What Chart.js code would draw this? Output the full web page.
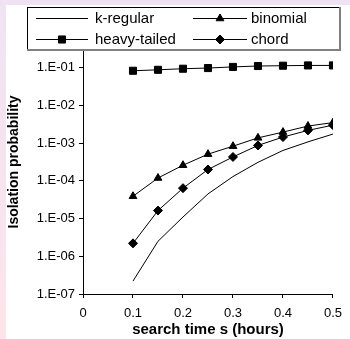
<!DOCTYPE html>
<html>
<head>
<meta charset="utf-8">
<script src="https://cdn.jsdelivr.net/npm/chart.js@4"></script>
<style>
  html, body { margin: 0; padding: 0; background: #fff; }
  #wrap { position: relative; width: 350px; height: 339px; overflow: hidden; }
  #stripTop { position: absolute; left: 0; top: 0; width: 350px; height: 5px; background: #efe3f3; }
  #stripLeft { position: absolute; left: 0; top: 0; width: 6px; height: 339px; background: linear-gradient(#efe3f3, #fde4ea); }
  canvas { position: absolute; left: 0; top: 0; }
</style>
</head>
<body>
<div id="wrap">
  <div id="stripTop"></div>
  <div id="stripLeft"></div>
  <canvas id="chart" width="350" height="339"></canvas>
</div>
<script>
// search time s (hours)
const searchTime  = [0.1, 0.15, 0.2, 0.25, 0.3, 0.35, 0.4, 0.45, 0.5];
// isolation probability per graph type
const kRegular    = [2.2e-7, 2.5e-6, 1.1e-5, 4.5e-5, 1.3e-4, 3.1e-4, 6.4e-4, 1.08e-3, 1.74e-3];
const binomial    = [3.9e-5, 1.19e-4, 2.6e-4, 5.1e-4, 8.3e-4, 1.38e-3, 1.96e-3, 2.84e-3, 3.5e-3];
const heavyTailed = [0.083, 0.088, 0.094, 0.098, 0.105, 0.111, 0.113, 0.115, 0.115];
const chord       = [2.2e-6, 1.63e-5, 6.4e-5, 2.0e-4, 4.3e-4, 8.7e-4, 1.45e-3, 2.18e-3, 3.0e-3];
const yTicks      = [1e-7, 1e-6, 1e-5, 1e-4, 1e-3, 1e-2, 1e-1, 1];
const xTitle      = 'search time s (hours)';
const yTitle      = 'Isolation probability';

const FONT = 'Arial, "Liberation Sans", sans-serif';

function series(label, values, style, radius) {
  return {
    label,
    data: searchTime.map((s, i) => ({ x: s, y: values[i] })),
    borderColor: '#000', backgroundColor: '#000', borderWidth: 1,
    pointStyle: style, pointRadius: radius, pointHoverRadius: radius,
    pointBackgroundColor: '#000', pointBorderColor: '#000',
    tension: 0,
  };
}

const datasets = [
  series('k-regular', kRegular, false, 0),
  series('binomial', binomial, 'triangle', 4.5),
  series('heavy-tailed', heavyTailed, 'rect', 5),
  series('chord', chord, 'rectRot', 4.5),
];

// legend drawn by hand: Excel-style boxed legend over the top of the plot
const legendBox = {
  id: 'legendBox',
  afterDraw(chart) {
    const ctx = chart.ctx;
    ctx.save();
    ctx.fillStyle = '#fff';
    ctx.fillRect(27, 7, 313, 43);
    ctx.fillStyle = '#000';
    ctx.fillRect(27, 7, 313, 1);
    ctx.fillRect(27, 7, 1, 43);
    ctx.fillStyle = '#808080';
    ctx.fillRect(27, 49, 314, 2);
    ctx.fillRect(339, 7, 2, 44);

    const cols = [{ x0: 36, x1: 88, tx: 95 }, { x0: 193, x1: 247, tx: 251 }];
    const rows = [18, 39];
    [0, 1, 2, 3].forEach((di, k) => {
      const ds = chart.data.datasets[di];
      const c = cols[k % 2], y = rows[Math.floor(k / 2)];
      ctx.strokeStyle = '#000';
      ctx.lineWidth = 1;
      ctx.beginPath();
      ctx.moveTo(c.x0, y + 0.5);
      ctx.lineTo(c.x1, y + 0.5);
      ctx.stroke();
      if (ds.pointStyle) {
        ctx.fillStyle = '#000';
        Chart.helpers.drawPoint(ctx, { pointStyle: ds.pointStyle, radius: ds.pointRadius, borderWidth: 1 }, (c.x0 + c.x1) / 2, y + 0.5);
      }
      ctx.fillStyle = '#000';
      ctx.font = '15px ' + FONT;
      ctx.textBaseline = 'middle';
      ctx.textAlign = 'left';
      ctx.fillText(ds.label, c.tx, y + 1);
    });
    ctx.restore();
  }
};

function expLabel(v) {
  const e = Math.round(Math.log10(v));
  const sign = e < 0 ? '-' : '+';
  return '1.E' + sign + String(Math.abs(e)).padStart(2, '0');
}

new Chart(document.getElementById('chart'), {
  type: 'line',
  data: { datasets },
  options: {
    responsive: false,
    animation: false,
    layout: { padding: { top: 30, right: 11, left: 0, bottom: 0 } },
    plugins: { legend: { display: false }, tooltip: { enabled: false } },
    scales: {
      x: {
        type: 'linear', min: 0, max: 0.5,
        afterFit: s => { s.height = 45; },
        grid: { display: true, drawOnChartArea: false, tickLength: 4, color: '#000' },
        border: { display: true, color: '#000', width: 1 },
        ticks: { stepSize: 0.1, color: '#000', padding: 8, font: { family: FONT, size: 13 },
                 callback: v => String(Number(v.toFixed(1))) },
        title: { display: true, text: xTitle, color: '#000', padding: { top: 0, bottom: 0 },
                 font: { family: FONT, size: 15, weight: 'bold' } },
      },
      y: {
        type: 'logarithmic', min: 1e-7, max: 1,
        afterFit: s => { s.width = 83; },
        afterBuildTicks: s => { s.ticks = yTicks.map(v => ({ value: v, major: true })); },
        grid: { display: true, drawOnChartArea: false, tickLength: 4, color: '#000' },
        border: { display: true, color: '#000', width: 1 },
        ticks: { autoSkip: false, color: '#000', padding: 4, font: { family: FONT, size: 13 },
                 callback: v => expLabel(v) },
        title: { display: true, text: yTitle, color: '#000', padding: { top: 6, bottom: 0 },
                 font: { family: FONT, size: 14, weight: 'bold' } },
      },
    },
  },
  plugins: [legendBox],
});
</script>
</body>
</html>
